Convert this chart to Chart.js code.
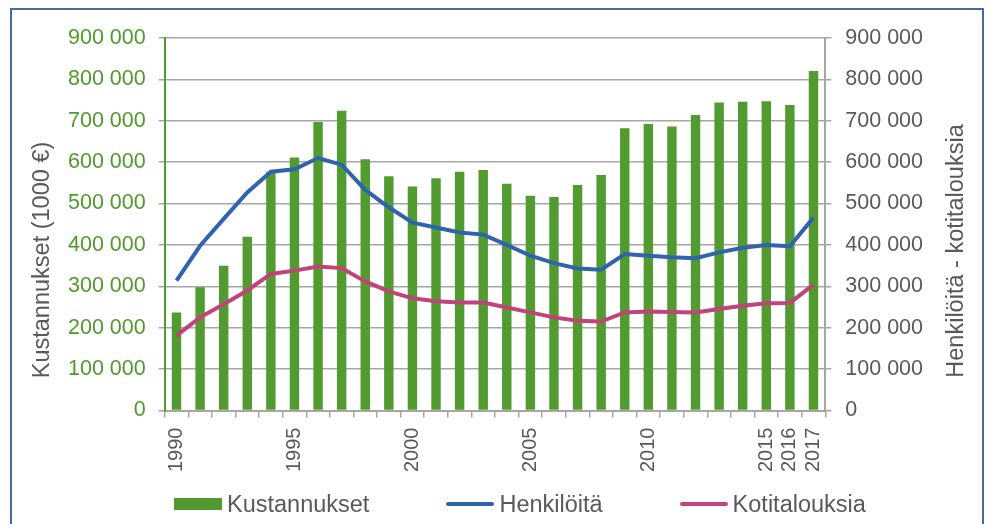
<!DOCTYPE html>
<html>
<head>
<meta charset="utf-8">
<script src="https://cdn.jsdelivr.net/npm/chart.js@4"></script>
<style>
  html, body { margin: 0; padding: 0; background: #fff; }
  #wrap { position: relative; width: 987px; height: 524px; overflow: hidden; }
  #frame {
    position: absolute; left: 10px; top: 8px; width: 970px; height: 540px;
    border: 2px solid #4a69a3; pointer-events: none;
  }
  canvas { position: absolute; left: 0; top: 0; }
  #legend {
    position: absolute; left: 174px; top: 490px; height: 28px;
    display: flex; align-items: center;
    font-family: 'Liberation Sans', Arial, sans-serif; font-size: 23.5px; color: #595959;
  }
  #legend .item { display: flex; align-items: center; margin-right: 77px; line-height: 28px; }
  #legend .mark { width: 48px; margin-right: 5px; }
</style>
</head>
<body>
<div id="wrap">
  <canvas id="chart" width="987" height="524"></canvas>
  <div id="legend"></div>
  <div id="frame"></div>
</div>
<script>
/* ============================================
   DATA
============================================ */

const years = [
    "1990", "1991", "1992", "1993", "1994", "1995", "1996", "1997", "1998", "1999",
    "2000", "2001", "2002", "2003", "2004", "2005", "2006", "2007", "2008", "2009",
    "2010", "2011", "2012", "2013", "2014", "2015", "2016", "2017"
];

// labels that are actually printed under the x axis
const shownYears = ["1990", "1995", "2000", "2005", "2010", "2015", "2016", "2017"];

// Kustannukset (1000 €)
const kustannukset = [
    237000, 298000, 350000, 420000, 577000, 611000, 697000, 724000, 607000, 566000,
    541000, 561000, 577000, 581000, 548000, 519000, 516000, 545000, 569000, 682000,
    692000, 686000, 714000, 744000, 746000, 747000, 738000, 820000
];

// Henkilöitä
const henkiloita = [
    314000, 398000, 463000, 527000, 577000, 583000, 610000, 594000, 533000, 491000,
    454000, 442000, 430000, 425000, 400000, 374000, 356000, 343000, 340000, 378000,
    374000, 370000, 368000, 382000, 393000, 400000, 397000, 466000
];

// Kotitalouksia
const kotitalouksia = [
    181000, 225000, 257000, 290000, 330000, 338000, 348000, 344000, 312000, 288000,
    271000, 264000, 261000, 261000, 249000, 237000, 225000, 217000, 215000, 237000,
    239000, 238000, 237000, 245000, 253000, 259000, 260000, 304000
];

const leftTitle = "Kustannukset (1000 €)";
const rightTitle = "Henkilöitä - kotitalouksia";

/* ============================================
   Helpers
============================================ */

const FONT = "'Liberation Sans', Arial, sans-serif";
const GREY_TEXT = "#595959";
const GRID = "#a6a6a6";
const GREEN = "#529b30";

function spaced(v) {
    return String(v).replace(/\B(?=(\d{3})+(?!\d))/g, " ");
}

// vertical axis titles, both reading bottom -> top like in Excel
function drawVerticalTitle(c, text, x, y) {
    c.save();
    c.fillStyle = GREY_TEXT;
    c.font = "23.5px " + FONT;
    c.textAlign = "center";
    c.textBaseline = "middle";
    c.translate(x, y);
    c.rotate(-Math.PI / 2);
    c.fillText(text, 0, 0);
    c.restore();
}

const axisTitles = {
    id: "axisTitles",
    afterDraw(chart) {
        drawVerticalTitle(chart.ctx, leftTitle, 43, 260);
        drawVerticalTitle(chart.ctx, rightTitle, 957, 251);
    }
};

/* ============================================
   Chart
============================================ */

const ctx = document.getElementById("chart").getContext("2d");

const chart = new Chart(ctx, {
    type: "bar",
    data: {
        labels: years,
        datasets: [
            {
                type: "bar",
                label: "Kustannukset",
                data: kustannukset,
                backgroundColor: GREEN,
                borderWidth: 0,
                yAxisID: "y",
                order: 1,
                categoryPercentage: 1,
                barPercentage: 0.4
            },
            {
                type: "line",
                label: "Henkilöitä",
                data: henkiloita,
                borderColor: "#2f63ae",
                borderWidth: 4,
                pointRadius: 0,
                tension: 0,
                yAxisID: "y1",
                order: 0
            },
            {
                type: "line",
                label: "Kotitalouksia",
                data: kotitalouksia,
                borderColor: "#c2427a",
                borderWidth: 4,
                pointRadius: 0,
                tension: 0,
                yAxisID: "y1",
                order: 0
            }
        ]
    },
    plugins: [axisTitles],
    options: {
        responsive: false,
        animation: false,
        layout: {
            padding: { top: 38, left: 55, right: 50, bottom: 42 }
        },
        plugins: {
            tooltip: { enabled: false },
            legend: { display: false }
        },
        scales: {
            x: {
                grid: {
                    drawOnChartArea: false,
                    drawTicks: true,
                    tickLength: 7,
                    color: GRID,
                    lineWidth: 1.5
                },
                border: { color: GRID, width: 2 },
                ticks: {
                    autoSkip: false,
                    maxRotation: 90,
                    minRotation: 90,
                    padding: 10,
                    color: GREY_TEXT,
                    font: { family: FONT, size: 20 },
                    callback: function (value, index) {
                        const y = years[index];
                        return shownYears.includes(y) ? y : "";
                    }
                }
            },
            y: {
                position: "left",
                min: 0,
                max: 900000,
                grid: {
                    color: GRID,
                    lineWidth: 1.5,
                    tickLength: 6
                },
                border: { color: GREEN, width: 2 },
                ticks: {
                    stepSize: 100000,
                    padding: 13,
                    color: "#4e9a2a",
                    font: { family: FONT, size: 21.5 },
                    callback: v => spaced(v)
                }
            },
            y1: {
                position: "right",
                min: 0,
                max: 900000,
                grid: {
                    drawOnChartArea: false,
                    color: GRID,
                    lineWidth: 1.5,
                    tickLength: 6
                },
                border: { color: GRID, width: 2 },
                ticks: {
                    stepSize: 100000,
                    padding: 14,
                    color: GREY_TEXT,
                    font: { family: FONT, size: 21.5 },
                    callback: v => spaced(v)
                }
            }
        }
    }
});

/* ============================================
   Legend (HTML, built from the datasets)
============================================ */

const legendBox = document.getElementById("legend");
chart.data.datasets.forEach(ds => {
    const item = document.createElement("div");
    item.className = "item";
    const mark = document.createElement("div");
    mark.className = "mark";
    if (ds.type === "bar") {
        mark.style.height = "12px";
        mark.style.background = ds.backgroundColor;
    } else {
        mark.style.height = ds.borderWidth + "px";
        mark.style.borderRadius = "2px";
        mark.style.background = ds.borderColor;
    }
    const text = document.createElement("span");
    text.textContent = ds.label;
    item.appendChild(mark);
    item.appendChild(text);
    legendBox.appendChild(item);
});
</script>
</body>
</html>
